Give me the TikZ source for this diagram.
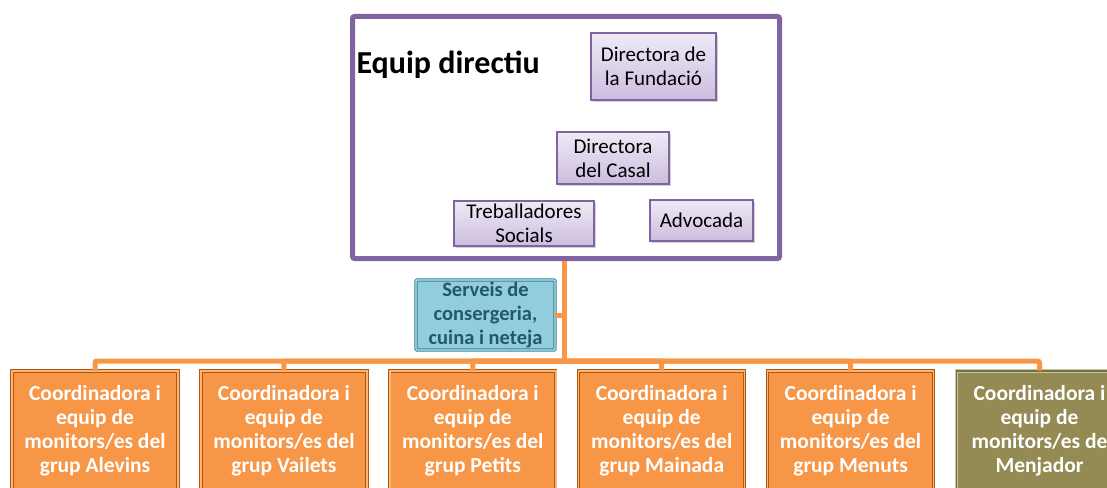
\documentclass[tikz,border=0pt]{standalone}
\usepackage{fontspec}
\setmainfont{Carlito}
\usepackage{tikz}
\usetikzlibrary{positioning, shadows}

\definecolor{Lila}{HTML}{8064A2}
\definecolor{LilaClar}{HTML}{EFEAF5}
\definecolor{LilaFosc}{HTML}{CBBDDF}
\definecolor{Taronja}{HTML}{F79646}
\definecolor{TaronjaFosc}{HTML}{B65708}
\definecolor{Verd}{HTML}{948A54}
\definecolor{VerdClar}{HTML}{C9C3A0}
\definecolor{Blau}{HTML}{92CDDC}
\definecolor{BlauFosc}{HTML}{31849B}
\definecolor{BlauText}{HTML}{215968}

\begin{document}
\begin{tikzpicture}[x=1pt, y=-1pt,
  directiu/.style={rectangle, draw=Lila, line width=1.5pt, top color=LilaClar,
    bottom color=LilaFosc, drop shadow={opacity=0.35, shadow xshift=1.5pt,
    shadow yshift=-2pt}, align=center, inner sep=1pt,
    font=\fontsize{21}{24}\selectfont},
  %
  marc/.style={rectangle, draw=Lila, line width=5pt, rounded corners=2pt,
    minimum width=427pt, minimum height=242pt},
  %
  grup/.style={rectangle, draw=TaronjaFosc, double=Taronja!70, double distance=1.4pt,
    line width=0.9pt, fill=Taronja, text=white, align=center,
    minimum width=166pt, minimum height=120pt, inner sep=1pt,
    font=\bfseries\fontsize{21.5}{24}\selectfont},
  %
  menjador/.style={grup, draw=VerdClar, double=Verd!80!black, fill=Verd},
  %
  serveis/.style={rectangle, draw=BlauFosc, double=Blau!60, double distance=1.4pt,
    line width=0.9pt, rounded corners=1pt, fill=Blau, text=BlauText,
    align=center, minimum width=139pt, minimum height=70pt, inner sep=1pt,
    font=\bfseries\fontsize{20.5}{24}\selectfont},
  %
  tronc/.style={draw=Taronja, line width=5pt, rounded corners=2pt}
  ]

  \useasboundingbox (0,0) rectangle (1107,487);

  \begin{scope}
    % equip directiu
    \node [marc] (equip) at (566,137.5) {};
    \node [anchor=west, font=\bfseries\fontsize{32}{34}\selectfont] (titol)
      at (353,65) {Equip directiu};
    \node [directiu, minimum width=125pt, minimum height=67pt] (fundacio)
      at (653.5,66.5) {Directora de\\la Fundació};
    \node [directiu, minimum width=112pt, minimum height=52pt] (casal)
      at (613,158) {Directora\\del Casal};
    \node [directiu, minimum width=140pt, minimum height=45pt] (treballadores)
      at (524,223.5) {Treballadores\\Socials};
    \node [directiu, minimum width=103pt, minimum height=41pt] (advocada)
      at (701.5,220.5) {Advocada};
  \end{scope}

  \begin{scope}
    \node [serveis] (consergeria) at (485.5,315) {Serveis de\\consergeria,\\cuina i neteja};
    %%%%%%%%%%%%%%%%%%%%%%%%%%%%%%%
    \node [grup] (alevins) at (95,431)
      {Coordinadora i\\equip de\\monitors/es del\\grup Alevins};
    \node [grup, right=22pt of alevins] (vailets)
      {Coordinadora i\\equip de\\monitors/es del\\grup Vailets};
    \node [grup, right=22pt of vailets] (petits)
      {Coordinadora i\\equip de\\monitors/es del\\grup Petits};
    \node [grup, right=22pt of petits] (mainada)
      {Coordinadora i\\equip de\\monitors/es del\\grup Mainada};
    \node [grup, right=22pt of mainada] (menuts)
      {Coordinadora i\\equip de\\monitors/es del\\grup Menuts};
    \node [menjador, right=22pt of menuts] (menjador)
      {Coordinadora i\\equip de\\monitors/es de\\Menjador};
  \end{scope}

  \begin{scope}
    \coordinate (bus) at (564.5,361);
    \draw [tronc] (equip.south -| bus) -- (bus);
    \draw [tronc] (consergeria.east) -- (consergeria.east -| bus);
    \foreach \g in {alevins, vailets, petits, mainada, menuts, menjador}
      \draw [tronc] (bus) -| (\g.north);
  \end{scope}

\end{tikzpicture}
\end{document}
